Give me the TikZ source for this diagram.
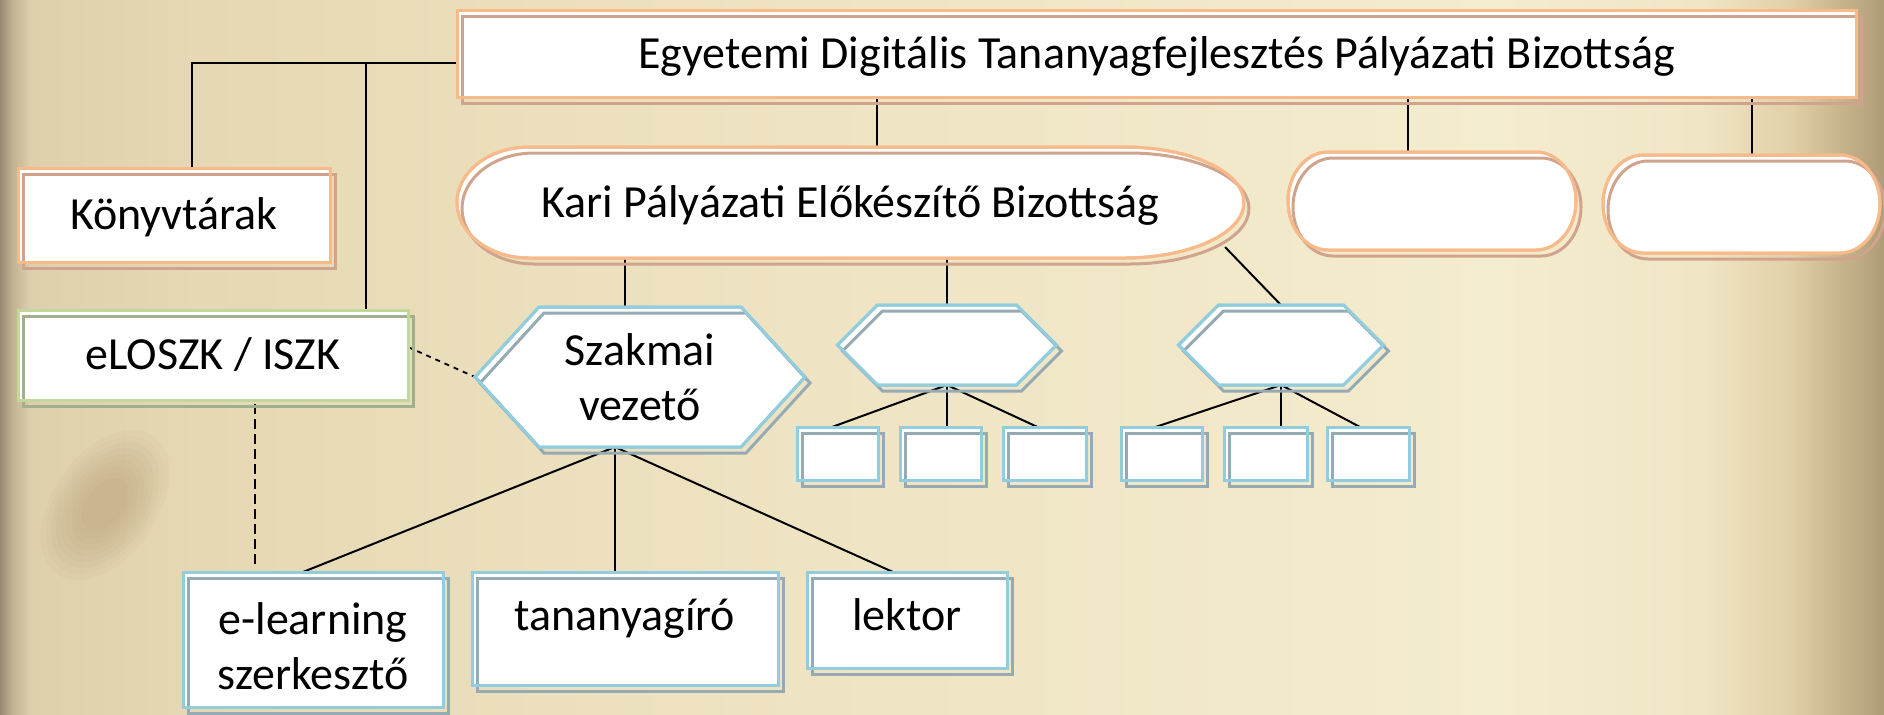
\documentclass[tikz,border=0pt]{standalone}
\usepackage{fontspec}
\setmainfont{Carlito}
\usetikzlibrary{calc}
\pgfdeclarelayer{paper}\pgfdeclarelayer{lines}\pgfdeclarelayer{shapes}
\pgfsetlayers{paper,lines,shapes,main}
\definecolor{orA}{RGB}{248,186,138}
\definecolor{orB}{RGB}{208,164,140}
\definecolor{blA}{RGB}{146,205,222}
\definecolor{blB}{RGB}{150,170,180}
\definecolor{grA}{RGB}{195,214,155}
\definecolor{grB}{RGB}{160,175,140}
\definecolor{p0}{RGB}{150,138,112}
\definecolor{p1}{RGB}{192,178,146}
\definecolor{p2}{RGB}{222,208,172}
\definecolor{p3}{RGB}{230,216,180}
\definecolor{p4}{RGB}{236,224,190}
\definecolor{p5}{RGB}{240,230,198}
\definecolor{p6}{RGB}{244,236,206}
\definecolor{p7}{RGB}{240,230,198}
\definecolor{p8}{RGB}{225,208,168}
\definecolor{p9}{RGB}{195,175,135}
\definecolor{p10}{RGB}{175,155,118}
\definecolor{stain}{RGB}{165,130,90}
\tikzset{
  deco/.style 2 args={fill=white, draw=#1, line width=1.5pt,
    postaction={draw=#2, line width=1.5pt, transform canvas={xshift=2.5pt,yshift=-3pt}},
    postaction={draw=#1, line width=1.5pt}},
  box/.style={rectangle, inner sep=0pt, outer sep=0pt, font=\fontsize{23pt}{27.5pt}\selectfont},
  single/.style={text height=14.8pt, text depth=0pt},
  multi/.style={align=center},
  conn/.style={line width=1pt, black},
  dashA/.style={line width=0.9pt, black, dash pattern=on 2.5pt off 2.5pt},
  dashB/.style={line width=0.8pt, black, dash pattern=on 5pt off 2.5pt}
}
\begin{document}
\begin{tikzpicture}[x=0.5pt, y=-0.5pt]
\useasboundingbox (0,0) rectangle (1884,714);
\begin{pgfonlayer}{paper}
\shade[left color=p0, right color=p1] (0,0) rectangle (12,714);
\shade[left color=p1, right color=p2] (12,0) rectangle (30,714);
\shade[left color=p2, right color=p3] (30,0) rectangle (200,714);
\shade[left color=p3, right color=p4] (200,0) rectangle (600,714);
\shade[left color=p4, right color=p5] (600,0) rectangle (1000,714);
\shade[left color=p5, right color=p6] (1000,0) rectangle (1500,714);
\shade[left color=p6, right color=p7] (1500,0) rectangle (1700,714);
\shade[left color=p7, right color=p8] (1700,0) rectangle (1790,714);
\shade[left color=p8, right color=p9] (1790,0) rectangle (1850,714);
\shade[left color=p9, right color=p10] (1850,0) rectangle (1884,714);
\foreach \r in {1.0,0.92,...,0.3}{
  \fill[stain, opacity=0.045, rotate around={-35:(105,505)}] (105,505) ellipse [x radius=\r*26pt, y radius=\r*42pt];
}
\end{pgfonlayer}

% nodes
\node[box, single, deco={orA}{orB}, minimum width=699.5pt, minimum height=43.5pt] (top) at (1156.5,53.5) {Egyetemi Digitális Tananyagfejlesztés Pályázati Bizottság};
\node[box, single, deco={orA}{orB}, minimum width=156pt, minimum height=47pt] (konyv) at (174,215) {Könyvtárak};
\node[box, single, deco={grA}{grB}, minimum width=195pt, minimum height=45pt] (eloszk) at (213,355) {eLOSZK / ISZK};
\node[box, single, minimum width=393.5pt, minimum height=55.5pt] (kari) at (850.5,202.5) {Kari Pályázati Előkészítő Bizottság};
\node[box, minimum width=144pt, minimum height=49pt] (box1) at (1432,201) {};
\node[box, minimum width=138.5pt, minimum height=49pt] (box2) at (1741.5,204) {};
\node[box, multi, minimum width=165pt, minimum height=70pt] (szak) at (640,377) {Szakmai\\vezető};
\node[box, minimum width=109.5pt, minimum height=40pt] (hexb) at (947,345) {};
\node[box, minimum width=102.5pt, minimum height=40pt] (hexc) at (1281,345) {};
\node[box, deco={blA}{blB}, minimum width=40.5pt, minimum height=26.5pt] (sb1) at (838,453.5) {};
\node[box, deco={blA}{blB}, minimum width=40.5pt, minimum height=26.5pt] (sb2) at (940.5,453.5) {};
\node[box, deco={blA}{blB}, minimum width=41.5pt, minimum height=26.5pt] (sb3) at (1044.5,453.5) {};
\node[box, deco={blA}{blB}, minimum width=40.5pt, minimum height=26.5pt] (sb4) at (1161.5,453.5) {};
\node[box, deco={blA}{blB}, minimum width=41.5pt, minimum height=26.5pt] (sb5) at (1265.5,453.5) {};
\node[box, deco={blA}{blB}, minimum width=41pt, minimum height=26.5pt] (sb6) at (1368,453.5) {};
\node[box, multi, deco={blA}{blB}, minimum width=130pt, minimum height=67.5pt] (elearn) at (313,639.5) {\rule{0pt}{23pt}e-learning\\szerkesztő};
\node[box, single, text depth=13.3pt, deco={blA}{blB}, minimum width=153pt, minimum height=56.5pt] (tanag) at (625,628.5) {tananyagíró};
\node[box, single, text depth=4.8pt, deco={blA}{blB}, minimum width=100pt, minimum height=48pt] (lektor) at (907,620) {lektor};

\begin{pgfonlayer}{shapes}
\path[deco={orA}{orB}] ([xshift=36pt]kari.north west) -- ([xshift=-60pt]kari.north east)
  arc[start angle=90, end angle=-90, x radius=60pt, y radius=27.75pt]
  -- ([xshift=36pt]kari.south west)
  arc[start angle=270, end angle=90, x radius=36pt, y radius=27.75pt] -- cycle;
\path[deco={orA}{orB}] ([xshift=20pt]box1.north west) -- ([xshift=-20pt]box1.north east)
  arc[start angle=90, end angle=-90, x radius=20pt, y radius=24.5pt]
  -- ([xshift=20pt]box1.south west)
  arc[start angle=270, end angle=90, x radius=20pt, y radius=24.5pt] -- cycle;
\path[deco={orA}{orB}] ([xshift=20pt]box2.north west) -- ([xshift=-20pt]box2.north east)
  arc[start angle=90, end angle=-90, x radius=20pt, y radius=24.5pt]
  -- ([xshift=20pt]box2.south west)
  arc[start angle=270, end angle=90, x radius=20pt, y radius=24.5pt] -- cycle;
\path[deco={blA}{blB}] (szak.west) -- ([xshift=32pt]szak.north west) -- ([xshift=-32pt]szak.north east)
  -- (szak.east) -- ([xshift=-32pt]szak.south east) -- ([xshift=32pt]szak.south west) -- cycle;
\path[deco={blA}{blB}] (hexb.west) -- ([xshift=20pt]hexb.north west) -- ([xshift=-20pt]hexb.north east)
  -- (hexb.east) -- ([xshift=-20pt]hexb.south east) -- ([xshift=20pt]hexb.south west) -- cycle;
\path[deco={blA}{blB}] (hexc.west) -- ([xshift=20pt]hexc.north west) -- ([xshift=-20pt]hexc.north east)
  -- (hexc.east) -- ([xshift=-20pt]hexc.south east) -- ([xshift=20pt]hexc.south west) -- cycle;
\end{pgfonlayer}

\begin{pgfonlayer}{lines}
\draw[conn] ([yshift=-4.75pt]top.west) -| ([xshift=9pt]konyv.north);
\draw[conn] ([xshift=-21pt]eloszk.north east) |- ([yshift=-4.75pt]top.west);
\draw[conn] ([xshift=13.25pt]kari.north) -- ([xshift=13.25pt]kari.north |- top.south);
\draw[conn] ([xshift=-12pt]box1.north) -- ([xshift=-12pt]box1.north |- top.south);
\draw[conn] ([xshift=5.25pt]box2.north) -- ([xshift=5.25pt]box2.north |- top.south);
\draw[conn] ([xshift=-7.5pt]szak.north) -- ([xshift=-7.5pt]szak.north |- kari.south);
\draw[conn] (hexb.north) -- (hexb.north |- kari.south);
\draw[conn] ([shift={(-9.5pt,5.5pt)}]kari.south east) -- (hexc.north);
\draw[conn] (hexb.south) -- ([xshift=-3pt]sb1.north);
\draw[conn] (hexb.south) -- (hexb.south |- sb2.north);
\draw[conn] (hexb.south) -- ([xshift=-3.5pt]sb3.north);
\draw[conn] (hexc.south) -- ([xshift=-3pt]sb4.north);
\draw[conn] (hexc.south) -- (hexc.south |- sb5.north);
\draw[conn] (hexc.south) -- ([xshift=-4pt]sb6.north);
\coordinate (apex) at ([xshift=-12.5pt]szak.south);
\draw[conn] (apex) -- ([xshift=-5pt]elearn.north);
\draw[conn] (apex) -- (apex |- tanag.north);
\draw[conn] (apex) -- ([xshift=-7pt]lektor.north);
\draw[dashA] ([yshift=4pt]eloszk.east) -- (szak.west);
\draw[dashB, shorten <=2pt, shorten >=2pt] ([xshift=21pt]eloszk.south) -- ([xshift=21pt]eloszk.south |- elearn.north);
\end{pgfonlayer}
\end{tikzpicture}
\end{document}
